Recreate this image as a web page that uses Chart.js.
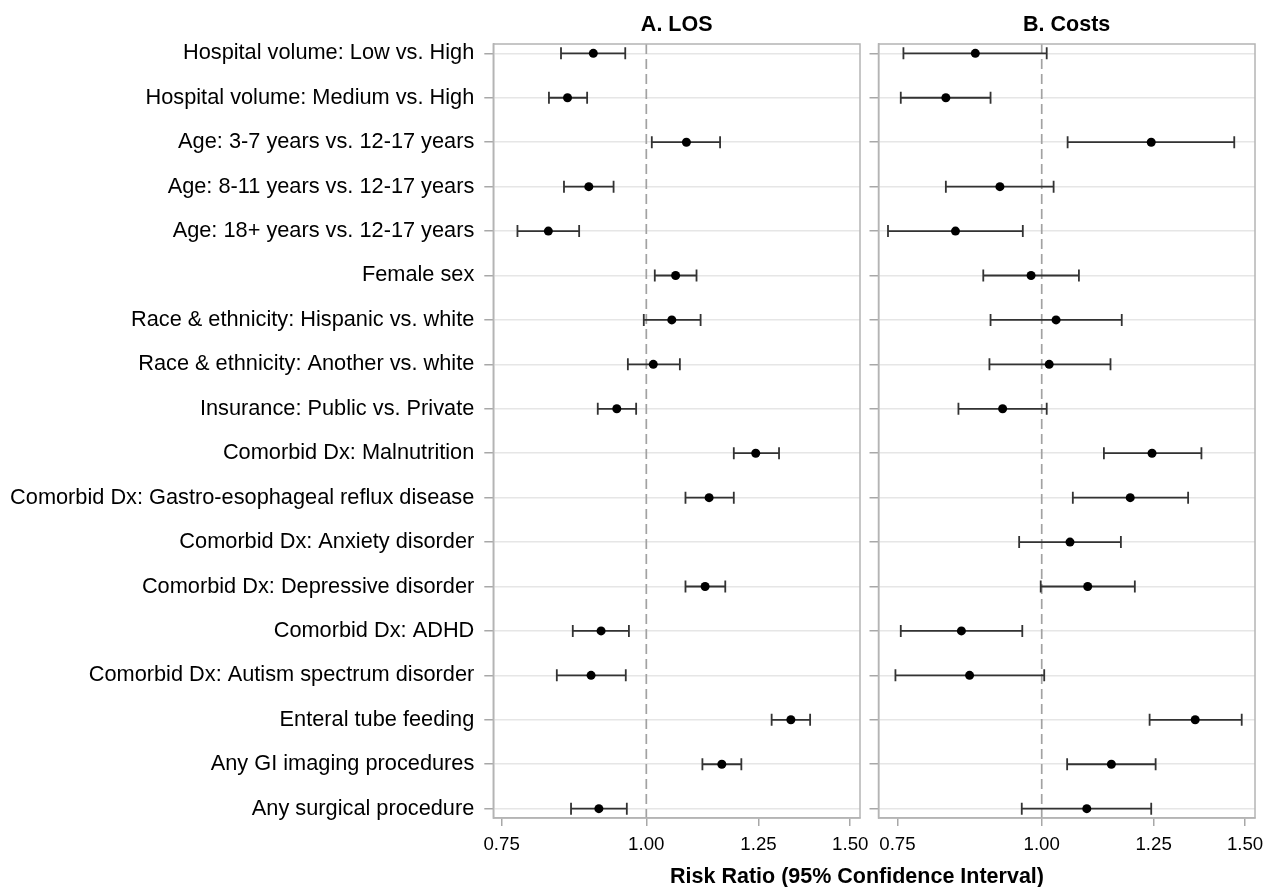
<!DOCTYPE html>
<html>
<head>
<meta charset="utf-8">
<script src="https://cdn.jsdelivr.net/npm/chart.js@4.4.0/dist/chart.umd.min.js"></script>
<style>
html,body{margin:0;padding:0;background:#fff;}
#wrap{position:relative;width:1266px;height:887px;overflow:hidden;font-family:"Liberation Sans",Arial,sans-serif;background:#fff;}
#wrap canvas{position:absolute;left:0;top:0;}
.t{position:absolute;font-weight:bold;font-size:21.5px;line-height:1;white-space:nowrap;transform:translateX(-50%);color:#000;}
</style>
</head>
<body>
<div id="wrap">
  <canvas id="c1" width="1266" height="887"></canvas>
  <canvas id="c2" width="1266" height="887"></canvas>
  <div class="t" id="t1" style="left:676.7px;top:14.3px"></div>
  <div class="t" id="t2" style="left:1066.7px;top:14.3px"></div>
  <div class="t" id="t3" style="left:857px;top:866.3px"></div>
</div>
<script>
// ---------- data ----------
const categories = [
  "Hospital volume: Low vs. High",
  "Hospital volume: Medium vs. High",
  "Age: 3-7 years vs. 12-17 years",
  "Age: 8-11 years vs. 12-17 years",
  "Age: 18+ years vs. 12-17 years",
  "Female sex",
  "Race & ethnicity: Hispanic vs. white",
  "Race & ethnicity: Another vs. white",
  "Insurance: Public vs. Private",
  "Comorbid Dx: Malnutrition",
  "Comorbid Dx: Gastro-esophageal reflux disease",
  "Comorbid Dx: Anxiety disorder",
  "Comorbid Dx: Depressive disorder",
  "Comorbid Dx: ADHD",
  "Comorbid Dx: Autism spectrum disorder",
  "Enteral tube feeding",
  "Any GI imaging procedures",
  "Any surgical procedure"
];
const losEst  = [0.900, 0.855, 1.083, 0.892, 0.823, 1.060, 1.052, 1.014, 0.943, 1.243, 1.133, null, 1.124, 0.914, 0.896, 1.333, 1.162, 0.910];
const losLow  = [0.844, 0.824, 1.011, 0.849, 0.774, 1.017, 0.995, 0.964, 0.908, 1.190, 1.081, null, 1.081, 0.864, 0.837, 1.283, 1.118, 0.861];
const losHigh = [0.959, 0.889, 1.158, 0.937, 0.875, 1.105, 1.114, 1.069, 0.980, 1.302, 1.190, null, 1.170, 0.966, 0.960, 1.385, 1.208, 0.962];
const costEst  = [0.876, 0.826, 1.244, 0.920, 0.842, 0.979, 1.029, 1.015, 0.925, 1.246, 1.193, 1.058, 1.096, 0.852, 0.866, 1.358, 1.149, 1.094];
const costLow  = [0.759, 0.755, 1.053, 0.826, 0.736, 0.890, 0.903, 0.901, 0.847, 1.132, 1.064, 0.956, 0.998, 0.755, 0.747, 1.240, 1.052, 0.961];
const costHigh = [1.010, 0.903, 1.468, 1.024, 0.963, 1.077, 1.173, 1.147, 1.010, 1.375, 1.339, 1.171, 1.204, 0.962, 1.005, 1.490, 1.255, 1.244];
const xTickValues = [0.75, 1.00, 1.25, 1.50];
const panelTitles = ["A. LOS", "B. Costs"];
const axisTitle = "Risk Ratio (95% Confidence Interval)";
const referenceValue = 1.0;

// ---------- rendering ----------
document.getElementById('t1').textContent = panelTitles[0];
document.getElementById('t2').textContent = panelTitles[1];
document.getElementById('t3').textContent = axisTitle;

const FONT = '"Liberation Sans", Arial, sans-serif';

const forestPlugin = {
  id: 'forest',
  beforeDatasetsDraw(chart, args, opts) {
    const {ctx, chartArea: a, scales: {x, y}} = chart;
    ctx.save();
    ctx.strokeStyle = '#a2a2a2';
    ctx.lineWidth = 1.7;
    ctx.setLineDash([10, 5]);
    const rx = x.getPixelForValue(referenceValue);
    ctx.beginPath();
    ctx.moveTo(rx, a.top);
    ctx.lineTo(rx, a.bottom);
    ctx.stroke();
    ctx.setLineDash([]);
    ctx.strokeStyle = '#333333';
    ctx.lineWidth = 1.8;
    opts.low.forEach((lo, i) => {
      const hi = opts.high[i];
      if (lo == null || hi == null) return;
      const py = y.getPixelForValue(i);
      const x1 = x.getPixelForValue(lo);
      const x2 = x.getPixelForValue(hi);
      ctx.beginPath();
      ctx.moveTo(x1, py); ctx.lineTo(x2, py);
      ctx.moveTo(x1, py - 6); ctx.lineTo(x1, py + 6);
      ctx.moveTo(x2, py - 6); ctx.lineTo(x2, py + 6);
      ctx.stroke();
    });
    ctx.restore();
  },
  afterDraw(chart) {
    const {ctx, chartArea: a} = chart;
    ctx.save();
    ctx.strokeStyle = '#b4b4b4';
    ctx.lineWidth = 1.5;
    ctx.strokeRect(a.left, a.top, a.right - a.left, a.bottom - a.top);
    ctx.restore();
  }
};

function makePanel(id, est, low, high, showLabels, padding, yWidth, xmin, xmax) {
  const pts = [];
  est.forEach((v, i) => { if (v != null) pts.push({x: v, y: i}); });
  return new Chart(document.getElementById(id), {
    type: 'scatter',
    data: {datasets: [{
      data: pts,
      pointRadius: 4.5,
      pointHoverRadius: 4.5,
      pointBackgroundColor: '#000',
      pointBorderColor: '#000',
      pointBorderWidth: 0
    }]},
    plugins: [forestPlugin],
    options: {
      responsive: false,
      animation: false,
      events: [],
      layout: {padding: padding},
      plugins: {
        legend: {display: false},
        title: {display: false},
        tooltip: {enabled: false},
        forest: {low: low, high: high}
      },
      scales: {
        x: {
          type: 'logarithmic',
          min: xmin, max: xmax,
          afterBuildTicks(s) { s.ticks = xTickValues.map(v => ({value: v})); },
          afterFit(s) { s.height = 69; s.paddingLeft = 0; s.paddingRight = 0; },
          ticks: {
            autoSkip: false, maxRotation: 0, padding: 8, color: '#000',
            font: {family: FONT, size: 18.7},
            callback: (v) => Number(v).toFixed(2)
          },
          grid: {drawOnChartArea: false, drawTicks: true, tickLength: 8, tickColor: '#a8a8a8', color: '#a8a8a8', lineWidth: 1.5},
          border: {color: '#b4b4b4', width: 1.5}
        },
        y: {
          type: 'linear',
          reverse: true,
          min: -0.21, max: categories.length - 1 + 0.21,
          afterBuildTicks(s) { s.ticks = categories.map((c, i) => ({value: i})); },
          afterFit(s) { s.width = yWidth; s.paddingTop = 0; s.paddingBottom = 0; },
          ticks: {
            display: showLabels, autoSkip: false, padding: 10, color: '#000',
            font: {family: FONT, size: 21.75},
            callback: (v) => categories[v]
          },
          grid: {color: '#e6e6e6', lineWidth: 1.5, drawTicks: true, tickLength: 9, tickColor: '#a8a8a8'},
          border: {color: '#b4b4b4', width: 1.5}
        }
      }
    }
  });
}

makePanel('c1', losEst, losLow, losHigh, true, {left: 0, right: 406, top: 44, bottom: 0}, 493.3, 0.7377, 1.5294);
makePanel('c2', costEst, costLow, costHigh, false, {left: 869.5, right: 11, top: 44, bottom: 0}, 9, 0.7222, 1.530);
</script>
</body>
</html>
